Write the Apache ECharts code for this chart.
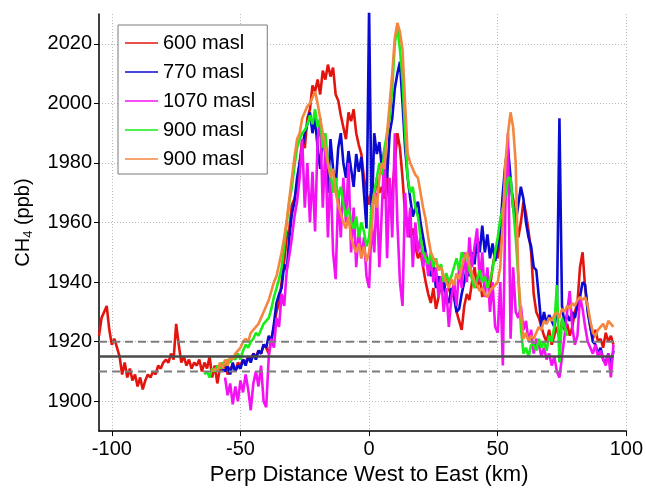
<!DOCTYPE html>
<html><head><meta charset="utf-8">
<script src="https://cdn.jsdelivr.net/npm/echarts@6/dist/echarts.min.js"></script>
<style>html,body{margin:0;padding:0;background:#fff}#c{width:646px;height:491px}</style>
</head><body><div id="c"></div>
<script>
const N = null;
// Perpendicular distance west to east (km), one sample per km
const distance = [
-105,-104,-103,-102,-101,-100,-99,-98,-97,-96,
-95,-94,-93,-92,-91,-90,-89,-88,-87,-86,
-85,-84,-83,-82,-81,-80,-79,-78,-77,-76,
-75,-74,-73,-72,-71,-70,-69,-68,-67,-66,
-65,-64,-63,-62,-61,-60,-59,-58,-57,-56,
-55,-54,-53,-52,-51,-50,-49,-48,-47,-46,
-45,-44,-43,-42,-41,-40,-39,-38,-37,-36,
-35,-34,-33,-32,-31,-30,-29,-28,-27,-26,
-25,-24,-23,-22,-21,-20,-19,-18,-17,-16,
-15,-14,-13,-12,-11,-10,-9,-8,-7,-6,
-5,-4,-3,-2,-1,0,1,2,3,4,
5,6,7,8,9,10,11,12,13,14,
15,16,17,18,19,20,21,22,23,24,
25,26,27,28,29,30,31,32,33,34,
35,36,37,38,39,40,41,42,43,44,
45,46,47,48,49,50,51,52,53,54,
55,56,57,58,59,60,61,62,63,64,
65,66,67,68,69,70,71,72,73,74,
75,76,77,78,79,80,81,82,83,84,
85,86,87,88,89,90,91,92,93,94,
95];

const xTicks = [-100, -50, 0, 50, 100];
const yTicks = [1900, 1920, 1940, 1960, 1980, 2000, 2020];
const seriesNames = ['600 masl', '770 masl', '1070 masl', '900 masl', '900 masl '];

// CH4 (ppb)
const ch4_600 = [
1922,1928,1930,1932,1924,1919,1921,1918,1915,1909,
1913,1908,1911,1907,1909,1905,1908,1904,1907,1909,
1908,1910,1909,1912,1911,1913,1914,1913,1916,1914,
1926,1919,1913,1915,1912,1914,1911,1913,1912,1914,
1910,1913,1911,1915,1908,1912,1906,1911,1910,1913,
1909,1911,1912,1910,1913,1912,1914,1913,1915,1914,
1916,1915,1917,1916,1919,1918,1916,1921,1925,1930,
1933,1940,1947,1955,1958,1966,1968,1972,1980,1988,
1985,1995,1998,2006,2004,2008,2003,2011,2008,2013,
2009,2012,2003,2001,1996,1992,1988,1997,1994,1998,
1990,1986,1983,1975,1970,1966,1972,1968,1975,1970,
1972,1968,1976,1964,1970,1980,1990,1985,1975,1963,
1960,1955,1958,1952,1948,1950,1945,1940,1936,1933,
1938,1931,1935,1940,1937,1942,1938,1935,1940,1930,
1927,1924,1932,1936,1934,1940,1945,1938,1942,1935,
1940,1943,1938,1945,1950,1948,1955,1965,1975,1980,
1972,1968,1962,1955,1960,1967,1963,1957,1950,1936,
1930,1928,1925,1922,1920,1924,1919,1922,1925,1921,
1927,1924,1926,1922,1925,1930,1933,1945,1950,1938,
1931,1925,1921,1924,1920,1921,1918,1923,1920,1922,
1919];

const ch4_770 = [
N,N,N,N,N,N,N,N,N,N,
N,N,N,N,N,N,N,N,N,N,
N,N,N,N,N,N,N,N,N,N,
N,N,N,N,N,N,N,N,N,N,
N,N,N,N,N,N,N,N,
1911,1910,1912,1909,1913,1910,1912,1911,1914,1912,
1915,1913,1916,1914,1917,1916,1919,1918,1922,1920,
1926,1933,1936,1938,1946,1944,1955,1963,1967,1975,
1980,1985,1990,1993,1997,1990,1995,1985,1978,1990,
1983,1970,1988,1978,1972,1985,1990,1980,1975,1984,
1978,1972,1983,1977,1982,1970,1958,2032,1960,1990,
1983,1987,1978,1985,1975,1990,1995,2005,2010,2014,
2000,1985,1975,1968,1962,1965,1967,1960,1955,1950,
1945,1942,1946,1938,1942,1937,1940,1935,1933,1938,
1935,1930,1931,1936,1940,1945,1942,1950,1946,1955,
1950,1959,1950,1956,1948,1953,1947,1952,1958,1970,
1980,1985,1975,1965,1960,1966,1972,1968,1960,1955,
1952,1945,1944,1935,1925,1930,1926,1929,1927,1925,
1930,1995,1932,1926,1929,1927,1930,1928,1932,1935,
1940,1939,1930,1925,1920,1919,1916,1918,1914,1913,
1916,1912,1917];

const ch4_1070 = [
N,N,N,N,N,N,N,N,N,N,
N,N,N,N,N,N,N,N,N,N,
N,N,N,N,N,N,N,N,N,N,
N,N,N,N,N,N,N,N,N,N,
N,N,N,N,N,N,N,N,N,
1908,1902,1906,1899,1905,1900,1907,1903,1909,1904,
1897,1906,1910,1905,1912,1900,1898,1915,1921,1918,
1928,1925,1936,1932,1944,1949,1955,1962,1967,1975,
1988,1965,1980,1960,1977,1957,1988,1995,1965,1985,
1955,1978,1950,1941,1970,1955,1975,1960,1980,1950,
1965,1945,1958,1948,1955,1942,1938,1960,1950,1970,
1945,1965,1985,1948,1975,1955,1990,1960,1940,1932,
1970,1955,1965,1945,1960,1950,1955,1945,1950,1942,
1948,1940,1945,1935,1942,1930,1938,1925,1935,1940,
1932,1945,1938,1950,1940,1955,1945,1952,1958,1940,
1950,1935,1945,1930,1940,1925,1923,1940,1912,1966,
1990,1921,1945,1930,1928,1932,1924,1927,1920,1924,
1916,1921,1919,1915,1918,1914,1916,1912,1915,1910,
1908,1915,1922,1930,1937,1925,1919,1922,1935,1931,
1925,1920,1918,1916,1919,1915,1917,1914,1912,1916,
1908,1919];

const ch4_900a = [
N,N,N,N,N,N,N,N,N,N,
N,N,N,N,N,N,N,N,N,N,
N,N,N,N,N,N,N,N,N,N,
N,N,N,N,N,N,N,N,N,N,
N,
1909,1910,1908,1911,1910,1912,1911,1913,1912,1914,
1913,1915,1914,1916,1914,1917,1919,1918,1920,1921,
1923,1922,1924,1926,1927,1928,1931,1935,1938,1941,
1945,1952,1960,1967,1972,1979,1985,1988,1990,1991,
1993,1996,1993,1998,1992,1995,1985,1990,1980,1977,
1970,1975,1968,1972,1966,1962,1965,1960,1958,1962,
1955,1960,1957,1952,1955,1965,1970,1975,1980,1976,
1985,1990,1995,2005,2020,2026,2018,2008,1990,1975,
1970,1972,1965,1962,1955,1950,1948,1946,1950,1945,
1948,1944,1946,1940,1943,1940,1942,1945,1948,1944,
1950,1948,1950,1944,1941,1938,1941,1944,1940,1942,
1938,1941,1944,1950,1955,1961,1965,1969,1975,1975,
1965,1955,1942,1925,1916,1918,1915,1919,1919,1917,
1921,1918,1920,1917,1922,1920,1925,1939,1913,1928,
1925,1922,
N,N,N,N,N,N,N,N,N,N,
N,N,N,N,N,N,N,N];

const ch4_900b = [
N,N,N,N,N,N,N,N,N,N,
N,N,N,N,N,N,N,N,N,N,
N,N,N,N,N,N,N,N,N,N,
N,N,N,N,N,N,N,N,N,N,
N,N,N,N,
1910,1911,1910,1913,1911,1914,1912,1915,1914,1916,
1917,1918,1920,1921,1920,1923,1924,1925,1926,1928,
1930,1932,1934,1937,1940,1942,1946,1950,1955,1961,
1968,1975,1982,1988,1990,1995,1997,1999,2000,2002,
2004,2000,1995,1990,1985,1980,1975,1978,1970,1966,
1963,1960,1958,1962,1955,1952,1950,1953,1948,1952,
1947,1950,1958,1970,1965,1975,1980,1978,1990,2000,
2010,2022,2027,2024,2018,2000,1983,1980,1978,1976,
1975,1970,1965,1961,1955,1950,1948,1947,1944,1945,
1942,1940,1938,1941,1939,1943,1941,1945,1948,1950,
1946,1943,1940,1939,1937,1938,1936,1935,1937,1938,
1939,1940,1945,1960,1980,1990,1997,1992,1980,1942,
1930,1921,1923,1920,1922,1921,1923,1925,1924,1927,
1926,1928,1927,1929,1930,1928,1931,1930,1932,1931,
1933,1932,1934,1935,1934,1935,1932,1927,1923,1922,
1924,1925,1926,1924,1927,1926,1925];

// background level and its band (ppb), and the distance span they cover (km)
const baseMean = 1915, baseHigh = 1920, baseLow = 1910;
const baseSpan = [-105, 95];

const colors = ['#e3140d', '#0a0ad2', '#f411f4', '#16ee16', '#f3873f'];
const values = [ch4_600, ch4_770, ch4_1070, ch4_900a, ch4_900b];

const FONT = '"Liberation Sans", Arial, Helvetica, sans-serif';

const dataSeries = values.map((arr, k) => ({
  name: seriesNames[k],
  type: 'line',
  data: distance.map((d, i) => [d, arr[i]]),
  symbol: 'none',
  showSymbol: false,
  connectNulls: false,
  lineStyle: { color: colors[k], width: 2.6 },
  itemStyle: { color: colors[k] },
  z: 2 + k
}));

function refLine(y, type, color, width) {
  return {
    type: 'line', silent: true, symbol: 'none', z: 10,
    data: baseSpan.map(x => [x, y]),
    lineStyle: { color: color, width: width, type: type }
  };
}

const chart = echarts.init(document.getElementById('c'), null, { renderer: 'canvas' });
chart.setOption({
  animation: false,
  backgroundColor: '#fff',
  textStyle: { fontFamily: FONT },
  grid: { left: 99, right: 18, top: 14, bottom: 56 },
  legend: {
    data: seriesNames.map(n => ({ name: n, icon: 'path://M0,0 L40,0 L40,2 L0,2 Z' })),
    orient: 'vertical',
    left: 118, top: 25,
    padding: [8, 12, 5, 7],
    itemWidth: 33, itemHeight: 2, itemGap: 9,
    backgroundColor: '#fff',
    borderColor: '#7a7a7a', borderWidth: 1, borderRadius: 0,
    formatter: n => n.trim(),
    textStyle: { fontSize: 20, color: '#000', fontFamily: FONT }
  },
  xAxis: {
    type: 'value', min: -105, max: 100, splitNumber: 4,
    name: 'Perp Distance West to East (km)',
    nameLocation: 'middle', nameGap: 22,
    nameTextStyle: { fontSize: 22, color: '#000', fontFamily: FONT, padding: [0, 0, 0, 13] },
    axisLine: { show: true, onZero: false, lineStyle: { color: '#000', width: 1.5 } },
    axisTick: { show: true, inside: false, length: 5, customValues: xTicks, lineStyle: { color: '#000', width: 1 } },
    axisLabel: { fontSize: 20, color: '#000', margin: 8, fontFamily: FONT, customValues: xTicks, formatter: v => String(v) },
    splitLine: { show: true, lineStyle: { color: '#b8b8b8', width: 1, type: [1, 2] } }
  },
  yAxis: {
    type: 'value', min: 1890, max: 2030, splitNumber: 7,
    name: '{a|CH}{b|4}{a| (ppb)}',
    nameLocation: 'middle', nameRotate: 90, nameGap: 64,
    nameTextStyle: {
      color: '#000', fontFamily: FONT,
      rich: {
        a: { fontSize: 20, lineHeight: 24, color: '#000', fontFamily: FONT },
        b: { fontSize: 13, lineHeight: 13, verticalAlign: 'bottom', color: '#000', fontFamily: FONT }
      }
    },
    axisLine: { show: true, onZero: false, lineStyle: { color: '#000', width: 1.5 } },
    axisTick: { show: true, inside: false, length: 5, customValues: yTicks, lineStyle: { color: '#000', width: 1 } },
    axisLabel: { fontSize: 20, color: '#000', margin: 7, fontFamily: FONT, customValues: yTicks, formatter: v => String(v) },
    splitLine: { show: true, lineStyle: { color: '#b8b8b8', width: 1, type: [1, 2] } }
  },
  series: dataSeries.concat([
    refLine(baseHigh, [8, 5], '#7d7d7d', 2),
    refLine(baseLow, [8, 5], '#7d7d7d', 2),
    refLine(baseMean, 'solid', '#4a4a4a', 2.5)
  ])
});
</script>
</body></html>
